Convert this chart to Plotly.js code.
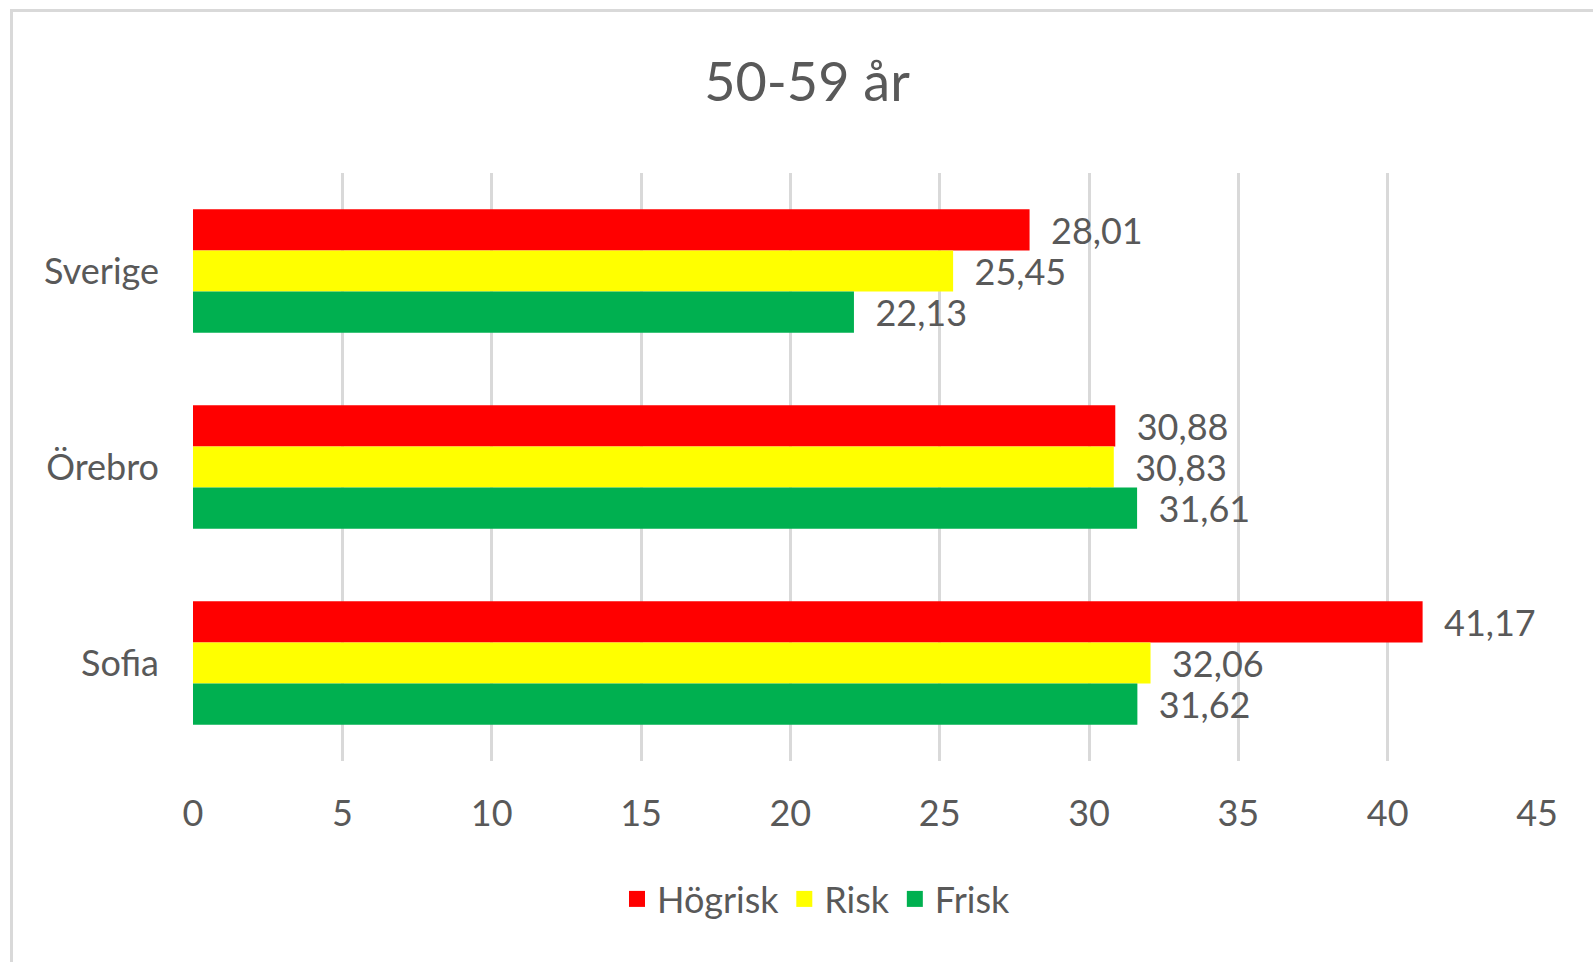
<!DOCTYPE html>
<html>
<head>
<meta charset="utf-8">
<script src="https://cdn.plot.ly/plotly-3.0.1.min.js"></script>
<style>
  html, body { margin: 0; padding: 0; background: #ffffff; }
  #wrap { position: relative; width: 1593px; height: 962px; overflow: hidden; }
  #chart { position: absolute; left: 0; top: 0; width: 1593px; height: 962px; }
  #frame { position: absolute; left: 10px; top: 9px; width: 1600px; height: 1000px;
           border-left: 3px solid #d9d9d9; border-top: 3px solid #d9d9d9; pointer-events: none; }
</style>
</head>
<body>
<div id="wrap">
  <div id="chart"></div>
  <div id="frame"></div>
</div>
<script>
const categories = ['Sverige', 'Örebro', 'Sofia'];
const seriesNames = ['Högrisk', 'Risk', 'Frisk'];
const hogrisk = [28.01, 30.88, 41.17];
const risk = [25.45, 30.83, 32.06];
const frisk = [22.13, 31.61, 31.62];
const colors = ['#FF0000', '#FFFF00', '#00B050'];
const titleText = '50-59 år';

const FONT = 'Lato, "Open Sans", sans-serif';
const GREY = '#595959';

const values = [hogrisk, risk, frisk];
const traces = [];
values.forEach(function (vals, i) {
  traces.push({
    type: 'bar',
    orientation: 'h',
    name: seriesNames[i],
    x: vals,
    y: categories,
    marker: { color: colors[i] },
    texttemplate: '\u00a0\u00a0%{x:.2f}',
    textposition: 'outside',
    constraintext: 'none',
    cliponaxis: false,
    textfont: { family: FONT, size: 36, color: GREY },
    showlegend: false,
    hoverinfo: 'skip'
  });
});
// legend entries (square swatches)
values.forEach(function (vals, i) {
  traces.push({
    type: 'scatter',
    mode: 'markers',
    name: seriesNames[i],
    x: [null],
    y: [null],
    marker: { color: colors[i], symbol: 'square', size: 16 },
    showlegend: true,
    hoverinfo: 'skip'
  });
});

const layout = {
  width: 1593,
  height: 962,
  margin: { l: 192.5, r: 56, t: 173, b: 201, pad: 0 },
  paper_bgcolor: '#ffffff',
  plot_bgcolor: '#ffffff',
  separators: ', ',
  barmode: 'group',
  bargap: 0.37,
  bargroupgap: 0,
  title: {
    text: titleText,
    font: { family: FONT, size: 54, color: GREY },
    x: 807 / 1593, xref: 'container', xanchor: 'center',
    y: 1 - 82 / 962, yref: 'container', yanchor: 'middle'
  },
  xaxis: {
    range: [0, 45],
    dtick: 5,
    tick0: 0,
    showgrid: true,
    gridcolor: '#d9d9d9',
    gridwidth: 3,
    zeroline: false,
    showline: false,
    ticks: '',
    ticklabelstandoff: 28,
    tickfont: { family: FONT, size: 36, color: GREY },
    fixedrange: true
  },
  yaxis: {
    type: 'category',
    categoryorder: 'array',
    categoryarray: categories,
    autorange: 'reversed',
    showgrid: false,
    zeroline: false,
    showline: false,
    ticks: '',
    ticklabelstandoff: 33,
    tickfont: { family: FONT, size: 36, color: GREY },
    fixedrange: true
  },
  showlegend: true,
  legend: {
    orientation: 'h',
    xref: 'container',
    yref: 'container',
    x: 816 / 1593,
    xanchor: 'center',
    y: 1 - 899 / 962,
    yanchor: 'middle',
    font: { family: FONT, size: 36, color: GREY },
    itemclick: false,
    itemdoubleclick: false,
    bgcolor: 'rgba(0,0,0,0)'
  },
  hovermode: false
};

Plotly.newPlot('chart', traces, layout, { displayModeBar: false, staticPlot: true });
</script>
</body>
</html>
